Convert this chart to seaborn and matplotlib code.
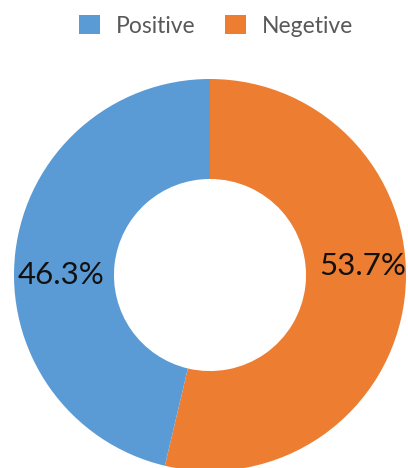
import matplotlib
matplotlib.use('Agg')
import matplotlib.pyplot as plt
from matplotlib.patches import Patch
import seaborn as sns

# data
labels = ["Negetive", "Positive"]
shares = [53.7, 46.3]
legend_order = ["Positive", "Negetive"]

sns.set_theme(style="white")
plt.rcParams['font.family'] = ['Lato', 'DejaVu Sans']

colors = {"Positive": "#5B9BD5", "Negetive": "#ED7D31"}

fig = plt.figure(figsize=(4.08, 4.68), dpi=100)
ax = fig.add_axes([14 / 408, -3 / 468, 392 / 408, 392 / 468])

wedges, _, autotexts = ax.pie(
    shares,
    colors=[colors[l] for l in labels],
    startangle=90,
    counterclock=False,
    radius=1,
    autopct='%1.1f%%',
    pctdistance=0.77,
    wedgeprops=dict(width=0.51, edgecolor='none'),
    textprops=dict(fontsize=22.5, color='#111111'),
)
# place percentage labels level with the hole, as in the original
autotexts[0].set_position((0.78, 0.045))
autotexts[1].set_position((-0.76, 0.0))

ax.set_xlim(-1, 1)
ax.set_ylim(-1, 1)
ax.axis('off')

handles = [Patch(facecolor=colors[l], edgecolor='none') for l in legend_order]
fig.legend(handles, legend_order, loc='center', bbox_to_anchor=(216 / 408, 1 - 26 / 468),
           ncol=2, frameon=False, fontsize=16.5, labelcolor='#595959',
           handlelength=0.9, handleheight=0.9, handletextpad=0.7, columnspacing=1.3)

fig.savefig("out.png", dpi=100)
plt.close(fig)
